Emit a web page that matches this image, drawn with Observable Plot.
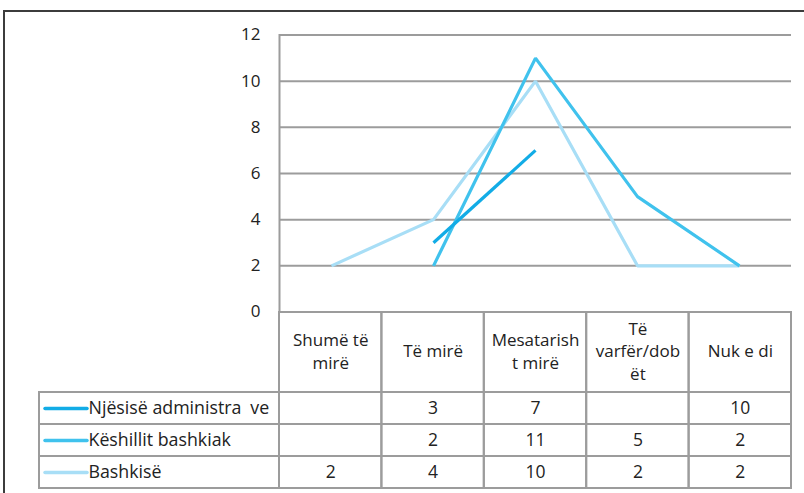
<!DOCTYPE html>
<html>
<head>
<meta charset="utf-8">
<script src="https://cdn.jsdelivr.net/npm/d3@7"></script>
<script src="https://cdn.jsdelivr.net/npm/@observablehq/plot@0.6"></script>
<style>
  html, body { margin: 0; padding: 0; background: #fff; }
  #wrap { position: relative; width: 804px; height: 493px; overflow: hidden; background: #fff; }
  #border { position: absolute; left: 3px; top: 10px; width: 820px; height: 500px;
            border-left: 2px solid #3c3c3c; border-top: 2px solid #3c3c3c; }
  #chart, #table { position: absolute; left: 0; }
  #chart { top: 0; }
  #table { top: 311px; }
</style>
</head>
<body>
<div id="wrap">
  <div id="border"></div>
  <div id="chart"></div>
  <div id="table"></div>
</div>
<script>
// ---- data ----
const categories = ["Shumë të mirë", "Të mirë", "Mesatarisht mirë", "Të varfër/dobët", "Nuk e di"];
const headerLabels = ["Shumë të\nmirë", "Të mirë", "Mesatarish\nt mirë", "Të\nvarfër/dob\nët", "Nuk e di"];
const seriesNames = ["Njësisë administra\u2002ve", "Këshillit bashkiak", "Bashkisë"];
const njesiseValues = [null, 3, 7, null, 10];
const keshillitValues = [null, 2, 11, 5, 2];
const bashkiseValues = [2, 4, 10, 2, 2];
const seriesColors = ["#12ace6", "#40c2ed", "#a8def6"];
const yTicks = [0, 2, 4, 6, 8, 10, 12];

const seriesValues = [njesiseValues, keshillitValues, bashkiseValues];
const FONT = "'Open Sans', 'DejaVu Sans', sans-serif";
const GRID = "#9c9c9c";
const TEXT = "#222222";

// long-format rows; drawn with the last series first so the first series sits on top
const rows = [];
[2, 1, 0].forEach(si => categories.forEach((c, ci) => {
  rows.push({series: seriesNames[si], cat: c, value: seriesValues[si][ci]});
}));

// ---- chart ----
const chart = Plot.plot({
  width: 804, height: 335,
  marginLeft: 279, marginRight: 13, marginTop: 34.5, marginBottom: 23.5,
  style: {background: "transparent", fontFamily: FONT, fontSize: "17px", color: TEXT},
  x: {type: "point", domain: categories, padding: 0.5, axis: null},
  y: {domain: [0, 12], axis: null},
  color: {domain: seriesNames, range: seriesColors},
  marks: [
    Plot.gridY(yTicks, {stroke: GRID, strokeOpacity: 1, strokeWidth: 2}),
    Plot.frame({anchor: "left", stroke: GRID, strokeWidth: 2}),
    Plot.axisY(yTicks, {tickSize: 0, tickPadding: 19, fontSize: 17, fill: TEXT, label: null}),
    Plot.line(rows, {x: "cat", y: "value", z: "series", stroke: "series",
      strokeWidth: 3.2, strokeLinejoin: "miter", strokeLinecap: "butt"})
  ]
});
document.getElementById("chart").appendChild(chart);

// ---- data table (column units: category i spans [i, i+1]) ----
const COL_PX = 512 / categories.length;          // pixel width of one category column
const LABEL_SPAN = 240 / COL_PX;                 // legend column width in column units
const HEADER_SPAN = 81 / 32;                     // header height in row units
const SW_X1 = -LABEL_SPAN + 6 / COL_PX, SW_X2 = -LABEL_SPAN + 48 / COL_PX, LABEL_X = -LABEL_SPAN + 49 / COL_PX;

const cells = [];
categories.forEach((c, i) => cells.push({x1: i, x2: i + 1, y1: -HEADER_SPAN, y2: 0}));
seriesNames.forEach((s, si) => {
  cells.push({x1: -LABEL_SPAN, x2: 0, y1: si, y2: si + 1});
  categories.forEach((c, ci) => cells.push({x1: ci, x2: ci + 1, y1: si, y2: si + 1}));
});
const tableValues = [];
seriesNames.forEach((s, si) => categories.forEach((c, ci) => {
  const v = seriesValues[si][ci];
  if (v != null) tableValues.push({si, ci, v});
}));

const table = Plot.plot({
  width: 804, height: 181,
  marginLeft: 39, marginRight: 13, marginTop: 0, marginBottom: 4,
  style: {background: "transparent", fontFamily: FONT, fontSize: "17px", color: TEXT},
  x: {type: "linear", domain: [-LABEL_SPAN, categories.length], axis: null},
  y: {type: "linear", domain: [-HEADER_SPAN, seriesNames.length], reverse: true, axis: null},
  color: {domain: seriesNames, range: seriesColors},
  marks: [
    Plot.rect(cells, {x1: "x1", x2: "x2", y1: "y1", y2: "y2", fill: "none", stroke: GRID, strokeWidth: 2}),
    Plot.text(headerLabels, {x: (d, i) => i + 0.5, y: -HEADER_SPAN / 2 - 0.05, text: d => d,
      lineHeight: 1.3, fontSize: 17, fill: TEXT}),
    Plot.text(tableValues, {x: d => d.ci + 0.5, y: d => d.si + 0.5, text: d => String(d.v),
      fontSize: 17.5, fill: TEXT}),
    Plot.ruleY(seriesNames, {y: (d, i) => i + 0.5, x1: SW_X1, x2: SW_X2, stroke: d => d,
      strokeWidth: 3.5, strokeLinecap: "round"}),
    Plot.text(seriesNames, {x: LABEL_X, y: (d, i) => i + 0.5, text: d => d, textAnchor: "start",
      fontSize: 17.8, fill: TEXT})
  ]
});
document.getElementById("table").appendChild(table);
</script>
</body>
</html>
